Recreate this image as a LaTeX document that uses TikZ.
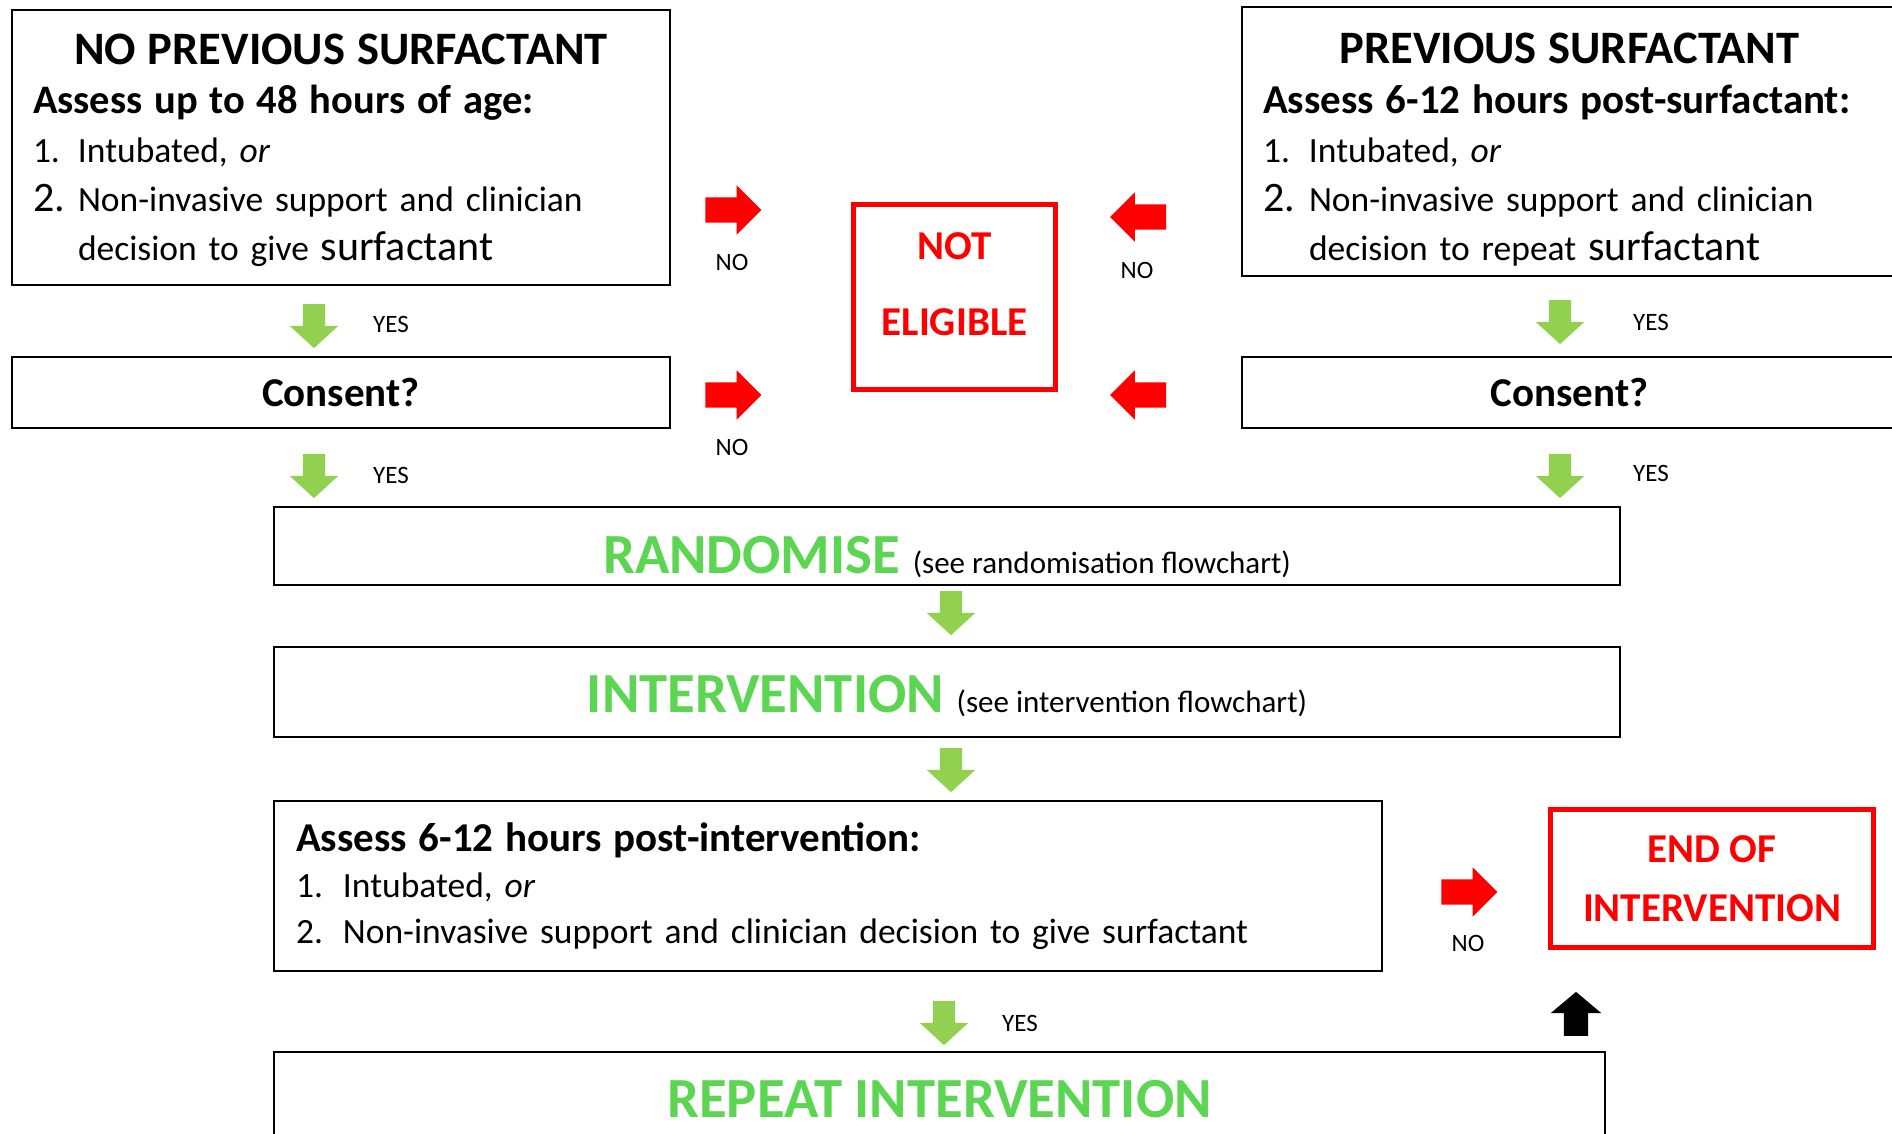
\documentclass[tikz,border=0pt]{standalone}
\usepackage{fontspec}
\setmainfont{Carlito}
\usepackage{tikz}
\usetikzlibrary{shapes.arrows}
\definecolor{yesgreen}{RGB}{146,208,80}
\definecolor{headgreen}{RGB}{92,214,82}
\definecolor{stopred}{RGB}{255,0,0}

\begin{document}
\begin{tikzpicture}[
    x=1pt, y=-1pt,
    box/.style={draw=black, line width=2pt, inner sep=0pt, outer sep=0pt},
    listbox/.style={box, align=left, font=\fontsize{35.5}{49}\selectfont},
    askbox/.style={box, font=\fontsize{41}{49}\selectfont\bfseries},
    stepbox/.style={box, font=\fontsize{31}{36}\selectfont},
    stopbox/.style={draw=stopred, line width=5pt, inner sep=0pt, text=stopred, align=center},
    yesarrow/.style={single arrow, fill=yesgreen, draw=none, rotate=-90, minimum height=44pt, minimum width=48pt, inner xsep=0pt, inner ysep=11pt, single arrow head extend=13pt, single arrow tip angle=95},
    noarrow/.style={single arrow, fill=stopred, draw=none, minimum height=56pt, minimum width=49pt, inner xsep=0pt, inner ysep=12.5pt, single arrow head extend=12pt, single arrow tip angle=90},
    backarrow/.style={single arrow, fill=black, draw=none, rotate=90, minimum height=44pt, minimum width=50pt, inner xsep=0pt, inner ysep=12pt, single arrow head extend=13pt, single arrow tip angle=100},
    answer/.style={inner sep=0pt, font=\fontsize{25}{30}\selectfont}
]
\useasboundingbox (0,0) rectangle (1892,1134);

% No previous surfactant
\node[listbox, minimum width=658pt, minimum height=275pt, text width=616pt] (nps) at (341,147.5) {%
  \rule{0pt}{37pt}\makebox[\hsize]{\fontsize{46.5}{49}\selectfont\bfseries NO PREVIOUS SURFACTANT}\\
  {\fontsize{40.5}{49}\selectfont\bfseries Assess up to 48 hours of age:}\\
  \makebox[45pt][l]{1.}Intubated, \textit{or}\\
  \makebox[45pt][l]{\fontsize{42}{49}\selectfont 2.}Non-invasive support and clinician\\
  \hspace*{45pt}decision to give {\fontsize{42}{49}\selectfont surfactant}};

% Previous surfactant
\node[listbox, minimum width=655pt, minimum height=269pt, text width=613pt] (ps) at (1569.5,141.5) {%
  \rule{0pt}{47pt}\makebox[\hsize]{\fontsize{46.5}{49}\selectfont\bfseries PREVIOUS SURFACTANT}\\[1pt]
  {\fontsize{41}{49}\selectfont\bfseries Assess 6-12 hours post-surfactant:}\\
  \makebox[46pt][l]{1.}Intubated, \textit{or}\\
  \makebox[46pt][l]{\fontsize{42}{49}\selectfont 2.}Non-invasive support and clinician\\
  \hspace*{46pt}decision to repeat {\fontsize{42}{49}\selectfont surfactant}};

% Consent
\node[askbox, minimum width=658pt, minimum height=71pt] (consentl) at (341,392.5) {Consent?};
\node[askbox, minimum width=655pt, minimum height=71pt] (consentr) at (1569.5,392.5) {Consent?};

% Not eligible
\node[stopbox, minimum width=202pt, minimum height=185pt, font=\fontsize{41}{76}\selectfont\bfseries] (noteligible) at (954.5,297) {NOT\\ELIGIBLE\rule[-26pt]{0pt}{26pt}};

% Randomise and intervention
\node[stepbox, minimum width=1346pt, minimum height=78pt, text height=54pt, text depth=0pt] (rand) at (947,546) {\textcolor{headgreen}{\fontsize{56.7}{60}\selectfont\bfseries RANDOMISE }(see randomisation flowchart)};
\node[stepbox, minimum width=1346pt, minimum height=90pt, text height=40pt, text depth=0pt] (interv) at (947,692) {\textcolor{headgreen}{\fontsize{56.7}{60}\selectfont\bfseries INTERVENTION }(see intervention flowchart)};

% Post-intervention assessment
\node[listbox, minimum width=1108pt, minimum height=170pt, text width=1064pt, font=\fontsize{35.5}{46}\selectfont] (postint) at (828,886) {%
  {\fontsize{41}{46}\selectfont\bfseries Assess 6-12 hours post-intervention:}\\
  \makebox[47pt][l]{1.}Intubated, \textit{or}\\
  \makebox[47pt][l]{2.}Non-invasive support and clinician decision to give surfactant};

% End of intervention
\node[stopbox, minimum width=323pt, minimum height=138pt, font=\fontsize{41}{59}\selectfont\bfseries] (endint) at (1712,878.5) {END OF\\INTERVENTION};

% Repeat intervention
\node[stepbox, minimum width=1331pt, minimum height=98pt, text height=32pt, text depth=0pt] (repeat) at (939.5,1101) {\textcolor{headgreen}{\fontsize{56.7}{60}\selectfont\bfseries REPEAT INTERVENTION}};

% YES arrows
\node[yesarrow] (yes1) at (314,321) {};
\node[yesarrow] (yes2) at (314,471) {};
\node[yesarrow] (yes3) at (1560,317) {};
\node[yesarrow] (yes4) at (1560,471) {};
\node[yesarrow] (yes5) at (951,608) {};
\node[yesarrow] (yes6) at (951,765) {};
\node[yesarrow] (yes7) at (944,1018) {};
\node[answer] (yes1t) at (391,324) {YES};
\node[answer] (yes2t) at (391,475) {YES};
\node[answer] (yes3t) at (1651,322) {YES};
\node[answer] (yes4t) at (1651,473) {YES};
\node[answer] (yes7t) at (1020,1023) {YES};

% NO arrows
\node[noarrow] (no1) at (727,210) {};
\node[noarrow] (no2) at (727,395) {};
\node[noarrow, rotate=180] (no3) at (1144.5,217) {};
\node[noarrow, rotate=180] (no4) at (1144.5,395) {};
\node[noarrow] (no5) at (1463,892) {};
\node[answer] (no1t) at (732,262) {NO};
\node[answer] (no2t) at (732,447) {NO};
\node[answer] (no3t) at (1137,270) {NO};
\node[answer] (no5t) at (1468,943) {NO};

% Back to end of intervention
\node[backarrow] (back) at (1576,1019) {};

\end{tikzpicture}
\end{document}
